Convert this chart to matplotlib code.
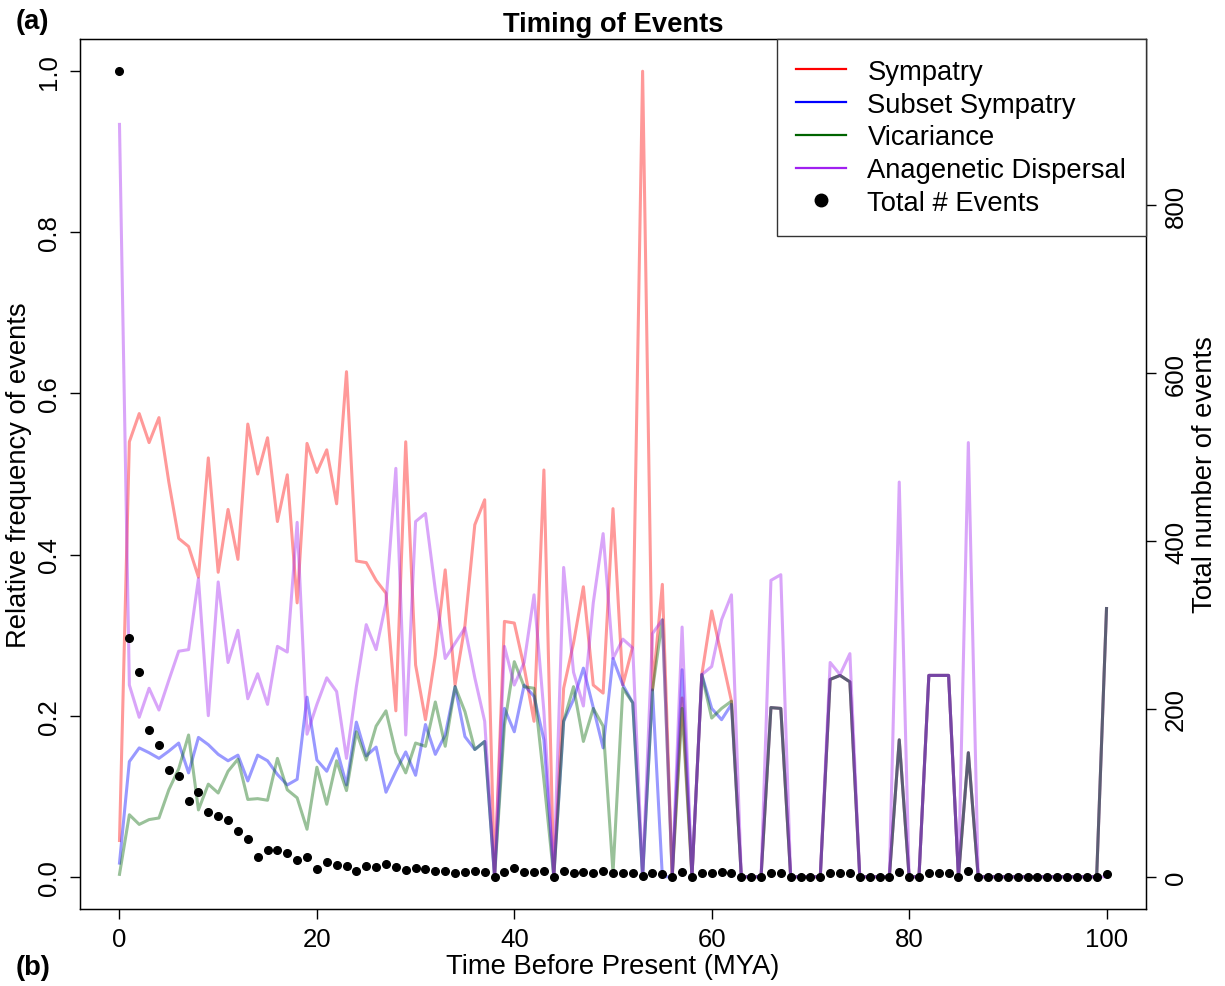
import numpy as np
import matplotlib.pyplot as plt
from matplotlib.lines import Line2D

plt.rc('font', family=['Liberation Sans', 'DejaVu Sans'])

# time before present (MYA)
time = list(range(0, 101))

# relative frequency of each event type
sympatry = [0.045, 0.54, 0.575, 0.539, 0.57, 0.49, 0.42, 0.41, 0.372, 0.52,
            0.378, 0.456, 0.394, 0.562, 0.50, 0.545, 0.441, 0.499, 0.34, 0.538,
            0.502, 0.53, 0.463, 0.627, 0.392, 0.39, 0.368, 0.352, 0.206, 0.54,
            0.263, 0.195, 0.275, 0.381, 0.238, 0.312, 0.437, 0.468, 0.0, 0.317,
            0.315, 0.26, 0.193, 0.505, 0.0, 0.234, 0.29, 0.36, 0.238, 0.228,
            0.457, 0.238, 0.286, 1.0, 0.232, 0.363, 0.0, 0.222, 0.0, 0.251,
            0.33, 0.274, 0.218, 0.0, 0.0, 0.0, 0.21, 0.209, 0.0, 0.0,
            0.0, 0.0, 0.245, 0.25, 0.242, 0.0, 0.0, 0.0, 0.0, 0.17,
            0.0, 0.0, 0.25, 0.25, 0.25, 0.0, 0.154, 0.0, 0.0, 0.0,
            0.0, 0.0, 0.0, 0.0, 0.0, 0.0, 0.0, 0.0, 0.0, 0.0,
            0.333]
subset = [0.017, 0.143, 0.16, 0.154, 0.147, 0.156, 0.166, 0.129, 0.173, 0.164,
          0.152, 0.144, 0.151, 0.119, 0.151, 0.144, 0.127, 0.114, 0.121, 0.223,
          0.145, 0.131, 0.159, 0.114, 0.192, 0.15, 0.161, 0.105, 0.131, 0.155,
          0.126, 0.189, 0.152, 0.176, 0.236, 0.174, 0.158, 0.168, 0.0, 0.209,
          0.18, 0.238, 0.224, 0.17, 0.0, 0.193, 0.22, 0.259, 0.21, 0.16,
          0.271, 0.238, 0.216, 0.0, 0.232, 0.0, 0.0, 0.257, 0.0, 0.251,
          0.209, 0.195, 0.214, 0.0, 0.0, 0.0, 0.21, 0.209, 0.0, 0.0,
          0.0, 0.0, 0.245, 0.25, 0.242, 0.0, 0.0, 0.0, 0.0, 0.17,
          0.0, 0.0, 0.25, 0.25, 0.25, 0.0, 0.154, 0.0, 0.0, 0.0,
          0.0, 0.0, 0.0, 0.0, 0.0, 0.0, 0.0, 0.0, 0.0, 0.0,
          0.333]
vicariance = [0.003, 0.077, 0.065, 0.071, 0.073, 0.108, 0.134, 0.176, 0.083, 0.115,
              0.104, 0.131, 0.146, 0.096, 0.097, 0.095, 0.147, 0.108, 0.098, 0.059,
              0.136, 0.09, 0.144, 0.107, 0.18, 0.145, 0.187, 0.206, 0.154, 0.129,
              0.166, 0.162, 0.217, 0.162, 0.236, 0.205, 0.158, 0.168, 0.0, 0.188,
              0.267, 0.236, 0.234, 0.12, 0.0, 0.193, 0.236, 0.168, 0.209, 0.187,
              0.005, 0.234, 0.216, 0.0, 0.232, 0.319, 0.0, 0.209, 0.0, 0.251,
              0.197, 0.209, 0.218, 0.0, 0.0, 0.0, 0.21, 0.209, 0.0, 0.0,
              0.0, 0.0, 0.245, 0.25, 0.242, 0.0, 0.0, 0.0, 0.0, 0.17,
              0.0, 0.0, 0.25, 0.25, 0.25, 0.0, 0.154, 0.0, 0.0, 0.0,
              0.0, 0.0, 0.0, 0.0, 0.0, 0.0, 0.0, 0.0, 0.0, 0.0,
              0.333]
anagenetic = [0.934, 0.238, 0.198, 0.234, 0.207, 0.244, 0.28, 0.282, 0.37, 0.2,
              0.366, 0.266, 0.306, 0.221, 0.252, 0.214, 0.286, 0.279, 0.44, 0.177,
              0.214, 0.247, 0.23, 0.147, 0.236, 0.313, 0.282, 0.34, 0.507, 0.176,
              0.441, 0.451, 0.356, 0.271, 0.29, 0.309, 0.247, 0.193, 0.0, 0.286,
              0.238, 0.266, 0.35, 0.205, 0.0, 0.384, 0.254, 0.212, 0.34, 0.426,
              0.271, 0.295, 0.284, 0.0, 0.302, 0.319, 0.0, 0.31, 0.0, 0.251,
              0.261, 0.319, 0.35, 0.0, 0.0, 0.0, 0.368, 0.375, 0.0, 0.0,
              0.0, 0.0, 0.266, 0.251, 0.277, 0.0, 0.0, 0.0, 0.0, 0.49,
              0.0, 0.0, 0.25, 0.25, 0.25, 0.0, 0.539, 0.0, 0.0, 0.0,
              0.0, 0.0, 0.0, 0.0, 0.0, 0.0, 0.0, 0.0, 0.0, 0.0,
              0.0]

# total number of events per time slice
total_events = [960, 285, 244, 175, 157, 127, 120, 90, 101, 77,
                73, 68, 54, 45, 24, 32, 32, 28, 20, 24,
                9, 18, 14, 13, 7, 13, 12, 15, 12, 8,
                11, 9, 7, 7, 4, 6, 7, 6, 0, 6,
                10, 6, 6, 7, 0, 7, 5, 6, 5, 7,
                4, 4, 4, 1, 4, 3, 0, 6, 0, 4,
                5, 6, 5, 0, 0, 0, 4, 4, 0, 0,
                0, 0, 4, 4, 4, 0, 0, 0, 0, 6,
                0, 0, 4, 4, 4, 0, 7, 0, 0, 0,
                0, 0, 0, 0, 0, 0, 0, 0, 0, 0,
                3]

series = [('Sympatry', sympatry, 'red'),
          ('Subset Sympatry', subset, 'blue'),
          ('Vicariance', vicariance, 'darkgreen'),
          ('Anagenetic Dispersal', anagenetic, '#A020F0')]

fs = 19.7      # labels, title, legend
fs_tick = 18.5

fig = plt.figure(figsize=(12.25, 9.87), dpi=100)
ax = fig.add_axes([80/1225, 77/987, 1066/1225, 870/987])

for name, vals, col in series:
    ax.plot(time, vals, color=col, alpha=0.4, lw=2.2)

ax.set_xlim(-4, 104)
ax.set_ylim(-0.04, 1.04)
ax.set_xticks([0, 20, 40, 60, 80, 100])
ax.set_yticks([0, 0.2, 0.4, 0.6, 0.8, 1.0])
ax.set_yticklabels(['0.0', '0.2', '0.4', '0.6', '0.8', '1.0'], rotation=90, va='center')
ax.tick_params(labelsize=fs_tick, length=7, width=1, direction='out')
ax.tick_params(axis='y', pad=7)
ax.tick_params(axis='x', pad=6)
for s in ax.spines.values():
    s.set_linewidth(1)

ax2 = ax.twinx()
ax2.plot(time, total_events, 'o', color='black', ms=5.5)
ax2.set_ylim(-0.04*960, 1.04*960)
ax2.set_yticks([0, 200, 400, 600, 800])
ax2.set_yticklabels(['0', '200', '400', '600', '800'], rotation=90, va='center')
ax2.tick_params(labelsize=fs_tick, length=7, width=1, direction='out', pad=6)

handles = [Line2D([], [], color=c, lw=1.6) for n, v, c in series]
handles.append(Line2D([], [], marker='o', ls='', color='black', ms=9))
labels = [n for n, v, c in series] + ['Total # Events']
leg = ax2.legend(handles, labels, loc='upper right', bbox_to_anchor=(1.0, 1.0),
                 borderaxespad=0, fontsize=fs, fancybox=False, framealpha=1,
                 edgecolor='#333333', handlelength=1.8, handletextpad=0.8,
                 labelspacing=0.25, borderpad=0.72)
leg.get_frame().set_linewidth(1)

fig.text(613/1225, 1 - 25/987, 'Timing of Events', ha='center', va='center',
         fontsize=fs, weight='bold')
fig.text(613/1225, 1 - 967/987, 'Time Before Present (MYA)', ha='center', va='center',
         fontsize=fs)
fig.text(19/1225, 1 - 475/987, 'Relative frequency of events', ha='center', va='center',
         fontsize=fs, rotation=90)
fig.text(1205/1225, 1 - 475/987, 'Total number of events', ha='center', va='center',
         fontsize=fs, rotation=90)
fig.text(16/1225, 1 - 22/987, '(a)', ha='left', va='center', fontsize=fs, weight='bold')
fig.text(16/1225, 1 - 968/987, '(b)', ha='left', va='center', fontsize=fs, weight='bold')

plt.savefig('out.png', dpi=100)
